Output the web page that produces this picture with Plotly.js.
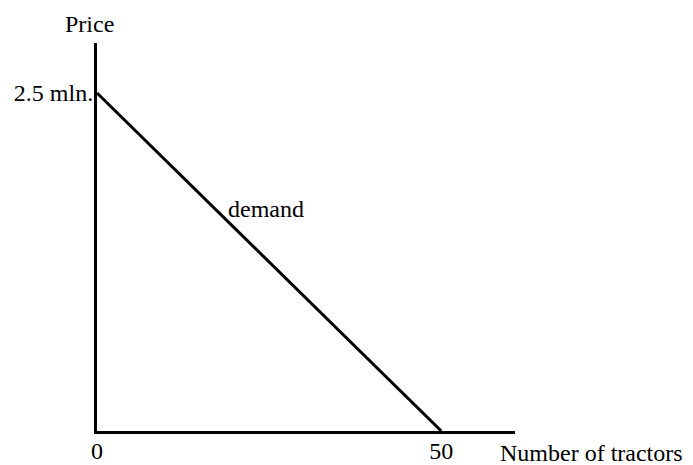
<!DOCTYPE html>
<html>
<head>
<meta charset="utf-8">
<script src="https://cdn.plot.ly/plotly-3.0.1.min.js"></script>
<style>
  html, body { margin: 0; padding: 0; background: #fff; }
  #chart { width: 693px; height: 465px; }
</style>
</head>
<body>
<div id="chart"></div>
<script>
// Linear demand curve for tractors
const quantity = [0, 50];
const price = [2.5, 0];

const xTickVals = [0, 50];
const xTickText = ['0', '50'];
const yTickVals = [2.5];
const yTickText = ['2.5 mln.'];

const serif = 'Liberation Serif, Times New Roman, serif';
const textFont = { family: serif, size: 24, color: '#000' };

const trace = {
  x: quantity,
  y: price,
  type: 'scatter',
  mode: 'lines',
  line: { color: '#000', width: 3 },
  hoverinfo: 'skip',
  showlegend: false
};

const layout = {
  width: 693,
  height: 465,
  margin: { l: 97, r: 178, t: 43, b: 34 },
  paper_bgcolor: '#fff',
  plot_bgcolor: '#fff',
  font: textFont,
  xaxis: {
    range: [0, 60.7],
    showline: true,
    linecolor: '#000',
    linewidth: 3,
    showgrid: false,
    zeroline: false,
    ticks: '',
    tickvals: xTickVals,
    ticktext: xTickText,
    ticklabelstandoff: -4,
    tickfont: textFont,
    fixedrange: true
  },
  yaxis: {
    range: [0, 2.87],
    showline: true,
    linecolor: '#000',
    linewidth: 3,
    showgrid: false,
    zeroline: false,
    ticks: '',
    tickvals: yTickVals,
    ticktext: yTickText,
    ticklabelstandoff: -4,
    tickfont: textFont,
    fixedrange: true
  },
  annotations: [
    {
      // y-axis name above the axis
      text: 'Price', xref: 'paper', yref: 'paper', x: -0.019, y: 1.049,
      xanchor: 'center', yanchor: 'middle', showarrow: false, font: textFont
    },
    {
      // x-axis name to the right of the axis end
      text: 'Number of tractors', xref: 'paper', yref: 'paper', x: 0.96, y: -0.056,
      xanchor: 'left', yanchor: 'middle', showarrow: false, font: textFont
    },
    {
      text: 'demand', xref: 'x', yref: 'y', x: 18.8, y: 1.64,
      xanchor: 'left', yanchor: 'middle', showarrow: false, font: textFont
    }
  ]
};

Plotly.newPlot('chart', [trace], layout, { displayModeBar: false, staticPlot: true });
</script>
</body>
</html>
